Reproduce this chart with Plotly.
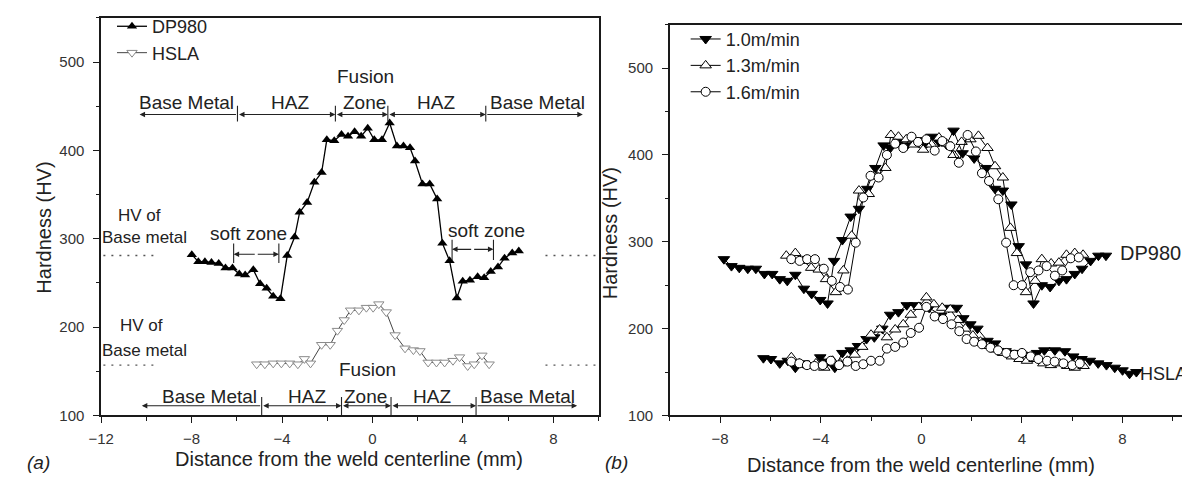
import plotly.graph_objects as go

# ---------------- data: panel (a) ----------------
a_dp_x = [-7.99, -7.70, -7.41, -7.12, -6.80, -6.50, -6.19, -5.89, -5.63, -5.27, -4.97, -4.68, -4.39,
          -4.07, -3.77, -3.44, -3.22, -2.89, -2.57, -2.25, -2.02, -1.69, -1.37, -1.08, -0.79, -0.50,
          -0.21, 0.08, 0.42, 0.76, 1.08, 1.37, 1.66, 1.88, 2.21, 2.53, 2.86, 3.09, 3.41, 3.73, 3.99,
          4.31, 4.65, 4.94, 5.23, 5.55, 5.84, 6.18, 6.47]
a_dp_hv = [282, 274, 274, 273, 272, 267, 267, 260, 259, 265, 249, 244, 235,
           232, 281, 302, 330, 341, 364, 375, 412, 411, 418, 416, 421, 416,
           425, 412, 412, 431, 405, 405, 403, 388, 362, 362, 345, 295, 275, 233, 252,
           253, 257, 256, 263, 268, 278, 284, 286]
a_hs_x = [-5.12, -4.76, -4.39, -4.03, -3.66, -3.30, -3.01, -2.74, -2.25, -1.87, -1.55, -1.25, -0.97,
          -0.60, -0.27, 0.03, 0.28, 0.61, 1.00, 1.44, 1.81, 2.10, 2.46, 2.83, 3.19, 3.56, 3.85,
          4.21, 4.50, 4.84, 5.16]
a_hs_hv = [158, 158, 159, 159, 159, 158, 164, 159, 180, 180, 196, 208, 219,
           219, 222, 222, 226, 217, 191, 176, 174, 173, 160, 160, 160, 162, 166,
           156, 158, 168, 158]

# ---------------- data: panel (b) ----------------
b10_dp_x = [-7.85, -7.55, -7.24, -6.90, -6.58, -6.24, -5.93, -5.63, -5.33, -5.01, -4.67, -4.36, -4.02,
            -3.73, -3.47, -3.14, -2.81, -2.48, -2.15, -1.83, -1.50, -1.24, -0.90, -0.58, -0.19, 0.18,
            0.40, 0.70, 1.00, 1.28, 1.64, 2.10, 2.59, 2.93, 3.24, 3.58, 3.87, 4.16, 4.46, 4.79, 5.12,
            5.47, 5.77, 6.10, 6.39, 6.73, 7.04, 7.34]
b10_dp_hv = [280, 272, 270, 269, 269, 263, 263, 257, 255, 262, 246, 240, 233,
             229, 278, 302, 329, 338, 361, 385, 411, 408, 415, 411, 417, 413,
             421, 415, 412, 428, 402, 396, 385, 361, 359, 343, 295, 274, 229, 250, 248,
             255, 257, 263, 269, 278, 284, 284]
b10_hs_x = [-6.28, -5.98, -5.63, -5.31, -5.01, -4.68, -4.35, -4.02, -3.73, -3.44, -3.14, -2.81, -2.52,
            -2.18, -1.87, -1.55, -1.24, -0.91, -0.58, -0.25, 0.31, 0.79, 1.09, 1.41, 1.67, 1.95,
            2.23, 2.63, 2.93, 3.35, 3.65, 4.00, 4.30, 4.60, 4.89, 5.31, 5.71, 6.04, 6.37, 6.70,
            7.03, 7.36, 7.69, 8.00, 8.28, 8.55]
b10_hs_hv = [166, 165, 160, 163, 155, 160, 158, 167, 162, 155, 172, 175, 180,
             188, 190, 200, 216, 219, 227, 227, 224, 215, 224, 224, 212, 205,
             200, 186, 183, 174, 172, 170, 168, 172, 175, 175, 174, 168, 165, 163,
             160, 158, 155, 152, 148, 150]

b13_dp_x = [-5.37, -5.01, -4.70, -4.38, -4.08, -3.79, -3.40, -3.10, -2.77, -2.48, -2.09, -1.75, -1.43,
            -1.21, -0.91, -0.60, -0.30, 0.07, 0.40, 0.70, 1.00, 1.28, 1.60, 1.95, 2.27, 2.63, 2.93,
            3.24, 3.54, 3.80, 4.16, 4.53, 4.79, 5.16, 5.47, 5.77, 6.10, 6.43]
b13_dp_hv = [284, 287, 278, 270, 268, 257, 242, 267, 307, 359, 355, 375, 385,
             423, 421, 418, 412, 406, 412, 420, 413, 400, 415, 418, 422, 408, 387,
             374, 316, 287, 242, 255, 280, 275, 276, 285, 287, 285]
b13_hs_x = [-5.17, -4.85, -4.52, -4.19, -3.86, -3.53, -3.23, -2.94, -2.65, -2.35, -2.00, -1.66, -1.37,
            -1.04, -0.72, -0.42, -0.10, 0.20, 0.50, 0.83, 1.15, 1.45, 1.75, 2.05, 2.35, 2.65, 2.95,
            3.25, 3.60, 3.90, 4.20, 4.50, 4.85, 5.15, 5.50, 5.80, 6.10, 6.45]
b13_hs_hv = [167, 160, 158, 160, 155, 163, 160, 163, 170, 179, 193, 199, 190,
             199, 205, 216, 225, 236, 228, 224, 222, 210, 200, 192, 185, 180, 176,
             172, 168, 165, 163, 165, 160, 158, 160, 157, 155, 157]

b16_dp_x = [-5.17, -4.84, -4.54, -4.23, -3.88, -3.56, -3.23, -2.92, -2.61, -2.31, -2.02, -1.70, -1.37,
            -1.04, -0.72, -0.39, -0.13, 0.20, 0.53, 0.83, 1.15, 1.49, 1.84, 2.17, 2.41, 2.69, 3.06,
            3.37, 3.67, 4.00, 4.33, 4.66, 4.98, 5.31, 5.60, 5.94, 6.26]
b16_dp_hv = [280, 278, 280, 280, 269, 255, 248, 245, 299, 351, 376, 374, 400,
             413, 408, 421, 415, 418, 405, 416, 410, 391, 423, 404, 379, 370, 349,
             299, 250, 250, 265, 267, 272, 261, 267, 281, 282]
b16_hs_x = [-5.17, -4.85, -4.55, -4.25, -3.92, -3.60, -3.27, -2.94, -2.61, -2.31, -2.00, -1.66, -1.37,
            -1.04, -0.72, -0.42, -0.09, 0.20, 0.53, 0.86, 1.20, 1.51, 1.80, 2.10, 2.41, 2.75, 3.05,
            3.38, 3.70, 4.00, 4.35, 4.65, 5.00, 5.30, 5.65, 6.00, 6.30]
b16_hs_hv = [162, 160, 158, 157, 158, 163, 158, 162, 157, 159, 163, 163, 177,
             179, 184, 195, 201, 225, 214, 211, 205, 197, 188, 185, 182, 178, 175,
             172, 170, 172, 168, 165, 163, 162, 160, 158, 160]

a_xticks = [-12, -8, -4, 0, 4, 8]
b_xticks = [-8, -4, 0, 4, 8]
y_ticks = [100, 200, 300, 400, 500]

# ---------------- figure ----------------
W, H = 1190, 478
FONT = "Liberation Sans, Arial, sans-serif"
TXT = "#222222"
AX = "#1a1a1a"


def fx(p):
    return p / W


def fy(p):
    return 1 - p / H


fig = go.Figure()

fig.add_trace(go.Scatter(
    x=a_dp_x, y=a_dp_hv, name="DP980", mode="lines+markers", xaxis="x", yaxis="y", legend="legend",
    line=dict(color="black", width=1.3),
    marker=dict(symbol="triangle-up", size=9, color="black", line=dict(width=0))))
fig.add_trace(go.Scatter(
    x=a_hs_x, y=a_hs_hv, name="HSLA", mode="lines+markers", xaxis="x", yaxis="y", legend="legend",
    line=dict(color="#444444", width=1),
    marker=dict(symbol="triangle-down", size=9, color="white", line=dict(color="#8a8a8a", width=1))))


def join(a, b):
    return list(a) + [None] + list(b)


speeds = [
    ("1.0m/min", b10_dp_x, b10_dp_hv, b10_hs_x, b10_hs_hv,
     dict(symbol="triangle-down", size=10, color="black", line=dict(color="black", width=1))),
    ("1.3m/min", b13_dp_x, b13_dp_hv, b13_hs_x, b13_hs_hv,
     dict(symbol="triangle-up", size=10, color="white", line=dict(color="black", width=1))),
    ("1.6m/min", b16_dp_x, b16_dp_hv, b16_hs_x, b16_hs_hv,
     dict(symbol="circle", size=9, color="white", line=dict(color="black", width=1))),
]
for name, dx, dy, hx, hy, mk in speeds:
    fig.add_trace(go.Scatter(
        x=join(dx, hx), y=join(dy, hy), name=name, mode="lines+markers",
        xaxis="x2", yaxis="y2", legend="legend2",
        line=dict(color="black", width=1), marker=mk))

axis_common = dict(
    showline=True, linecolor=AX, linewidth=1.5, ticks="outside", ticklen=6, tickwidth=1.2,
    tickcolor=AX, showgrid=False, zeroline=False,
    tickfont=dict(family=FONT, size=15, color="#333333"))
minor_x = dict(ticks="outside", ticklen=3.5, tickwidth=1.2, tickcolor=AX, dtick=2, tick0=0)
minor_y = dict(ticks="outside", ticklen=3.5, tickwidth=1.2, tickcolor=AX, dtick=50, tick0=0)

fig.update_layout(
    width=W, height=H, margin=dict(l=0, r=0, t=0, b=0),
    paper_bgcolor="white", plot_bgcolor="white",
    font=dict(family=FONT, color=TXT),
    xaxis=dict(domain=[fx(81), fx(584)], range=[-12, 10], anchor="y", mirror=True,
               tickvals=a_xticks, ticklabelstandoff=3, minor=minor_x, **axis_common),
    yaxis=dict(domain=[fy(414), fy(7)], range=[100, 550], anchor="x", mirror=True,
               tickvals=y_ticks, ticklabelstandoff=6, minor=minor_y, **axis_common),
    xaxis2=dict(domain=[fx(656), 1.0], range=[-10, 11], anchor="y2", mirror=True,
                tickvals=b_xticks, ticklabelstandoff=3, minor=minor_x, **axis_common),
    yaxis2=dict(domain=[fy(414), fy(14)], range=[100, 550], anchor="x2", mirror=False,
                tickvals=y_ticks, ticklabelstandoff=6, minor=minor_y, **axis_common),
    legend=dict(x=fx(92), y=fy(-3), xanchor="left", yanchor="top", bgcolor="rgba(0,0,0,0)",
                font=dict(family=FONT, size=18, color=TXT), tracegroupgap=0),
    legend2=dict(x=fx(672), y=fy(10), xanchor="left", yanchor="top", bgcolor="rgba(0,0,0,0)",
                 font=dict(family=FONT, size=18, color=TXT), tracegroupgap=0),
    showlegend=True,
)

ann = []
shapes = []


def text(x, y, s, xref="x", yref="y", size=19, **kw):
    d = dict(x=x, y=y, text=s, xref=xref, yref=yref, showarrow=False,
             font=dict(family=FONT, size=size, color=TXT), xanchor="center", yanchor="middle")
    d.update(kw)
    ann.append(d)


def arrow(x_tail, x_head, y, both=False):
    ann.append(dict(x=x_head, y=y, ax=x_tail, ay=y, xref="x", yref="y", axref="x", ayref="y",
                    text="", showarrow=True, arrowhead=2, startarrowhead=2, arrowsize=1,
                    arrowwidth=1.1, arrowcolor="#222222", standoff=0, startstandoff=0,
                    arrowside="end+start" if both else "end"))


def vtick(x, y0, y1):
    shapes.append(dict(type="line", xref="x", yref="y", x0=x, x1=x, y0=y0, y1=y1,
                       line=dict(color="#222222", width=1.1)))


def zone_bar(y, ends, bounds, tick_lo, tick_hi):
    arrow(bounds[0], ends[0], y)
    arrow(bounds[0], bounds[1], y, both=True)
    arrow(bounds[1], bounds[2], y, both=True)
    arrow(bounds[2], bounds[3], y, both=True)
    arrow(bounds[3], ends[1], y)
    for b in bounds:
        vtick(b, tick_lo, tick_hi)


# upper zone bar (DP980)
zone_bar(440.6, (-10.3, 9.3), (-5.97, -1.64, 0.68, 5.01), 432.8, 450.5)
for xx, s in [(-8.24, "Base Metal"), (-3.66, "HAZ"), (-0.35, "Zone"), (2.82, "HAZ"), (7.29, "Base Metal")]:
    text(xx, 454, s)
text(-0.31, 484, "Fusion")

# lower zone bar (HSLA)
zone_bar(111, (-10.2, 9.05), (-4.9, -1.37, 0.82, 4.58), 100, 121)
for xx, s in [(-7.2, "Base Metal"), (-2.9, "HAZ"), (-0.31, "Zone"), (2.65, "HAZ"), (6.84, "Base Metal")]:
    text(xx, 121, s)
text(-0.21, 152, "Fusion")

# soft zones
text(-5.48, 306, "soft zone")
arrow(-5.14, -6.14, 282.4)
arrow(-5.14, -4.14, 282.4)
vtick(-6.14, 272.5, 294.6)
vtick(-4.14, 272.5, 294.6)
text(5.04, 309, "soft zone")
arrow(4.43, 3.52, 288)
arrow(4.43, 5.35, 288)
vtick(3.52, 276, 299)
vtick(5.35, 276, 299)

# HV of base metal
text(-10.3, 326, "HV of", size=17)
text(-10.1, 301, "Base metal", size=17)
text(-10.2, 202, "HV of", size=17)
text(-10.1, 173, "Base metal", size=17)
for yy in (281, 157):
    for x0, x1 in ((-11.9, -9.6), (7.65, 10)):
        shapes.append(dict(type="line", xref="x", yref="y", x0=x0, x1=x1, y0=yy, y1=yy,
                           line=dict(color="#555555", width=1.4, dash="2px,6px")))

# panel (b) labels
text(7.8, 287, "DP980", xref="x2", yref="y2", size=20, xanchor="left")
text(10.65, 148, "HSLA", xref="x2", yref="y2", size=18, xanchor="right")

# axis titles and panel letters
text(fx(23), fy(222), "Hardness (HV)", xref="paper", yref="paper", size=20, textangle=-90)
text(fx(595), fy(228), "Hardness (HV)", xref="paper", yref="paper", size=20, textangle=-90)
text(fx(332), fy(459), "Distance from the weld centerline (mm)", xref="paper", yref="paper", size=20)
text(fx(910), fy(465), "Distance from the weld centerline (mm)", xref="paper", yref="paper", size=20)
text(fx(18), fy(462), "<i>(a)</i>", xref="paper", yref="paper", size=19)
text(fx(602), fy(462), "<i>(b)</i>", xref="paper", yref="paper", size=19)

fig.update_layout(annotations=ann, shapes=shapes)
fig.write_html("out.html")
